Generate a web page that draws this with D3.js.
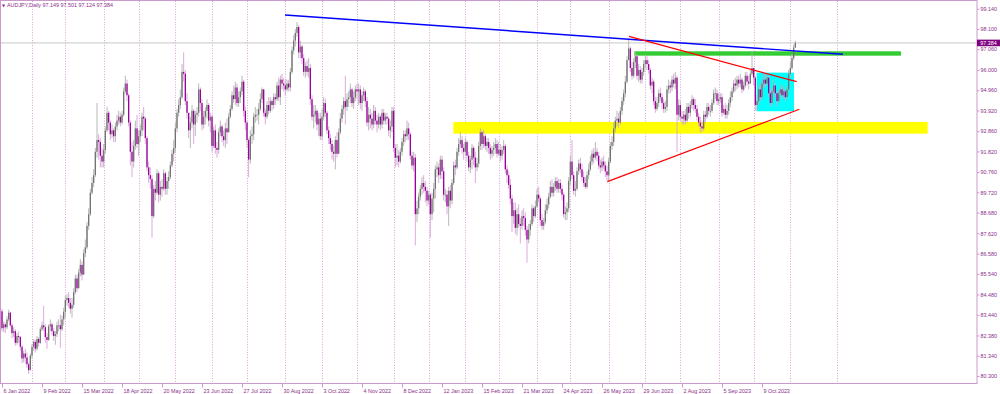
<!DOCTYPE html>
<html>
<head>
<meta charset="utf-8">
<title>AUDJPY Daily</title>
<script src="https://cdn.jsdelivr.net/npm/d3@7/dist/d3.min.js"></script>
<style>
  html, body { margin: 0; padding: 0; background: #fff; }
  svg { display: block; }
  .lbl { font-family: "Liberation Sans", Arial, sans-serif; font-size: 5.4px; fill: #8b2f8b; }
</style>
</head>
<body>
<div id="chart"></div>
<script>
// AUDJPY daily bars (open = previous close)
const firstOpen = 83.62;

const closes = [
  // Jan 2022
  82.75, 82.95, 82.8, 83.2, 83.55, 82.9, 82.5, 82.6, 82.0, 82.35, 82.3, 81.8, 81.2, 81.45, 81.25, 80.9, 80.6, 81.35,
  // Feb
  81.8, 82.05, 81.7, 82.2, 82.0, 82.7, 82.9, 82.8, 82.3, 82.15, 82.85, 82.95, 82.6, 82.35, 82.45, 82.9, 82.9, 82.7, 83.2, 83.6,
  // Mar
  84.2, 84.3, 84.05, 83.75, 83.95, 84.6, 85.3, 84.8, 85.6, 86.0, 85.5, 86.6, 86.9, 88.0, 88.6, 89.7, 90.2, 90.6, 91.8, 92.4, 92.3, 91.6, 91.3,
  // Apr
  91.9, 92.9, 93.8, 93.3, 92.7, 92.9, 92.6, 93.1, 93.4, 93.6, 93.3, 93.7, 94.9, 95.3, 94.7, 93.3, 91.8, 91.3, 92.1, 93.0, 92.2,
  // May
  92.6, 92.9, 93.6, 93.5, 92.5, 91.0, 90.6, 90.4, 88.5, 89.9, 89.7, 90.7, 89.6, 90.0, 89.9, 90.7, 89.9, 90.3, 90.5, 91.1, 91.7, 92.0,
  // Jun
  93.0, 93.8, 94.2, 94.6, 95.9, 95.8, 94.4, 93.8, 92.9, 93.3, 93.9, 93.2, 93.7, 93.8, 95.0, 94.3, 93.2, 93.6, 93.9, 94.2, 93.4, 93.6,
  // Jul
  92.1, 92.9, 92.0, 91.9, 92.8, 93.1, 92.6, 92.4, 93.0, 92.8, 93.6, 94.0, 94.7, 94.5, 95.1, 94.3, 94.6, 94.9, 95.4, 93.9, 93.3,
  // Aug
  92.4, 91.4, 92.6, 92.7, 93.6, 93.7, 93.7, 94.0, 94.5, 95.0, 93.8, 93.6, 94.2, 93.9, 94.4, 94.2, 94.6, 94.5, 95.2, 94.6, 95.5, 95.3, 95.2,
  // Sep
  95.0, 95.3, 95.1, 95.9, 97.0, 97.5, 97.9, 98.2, 96.9, 97.2, 96.6, 95.9, 96.2, 95.9, 96.1, 94.5, 93.6, 93.7, 93.9, 93.2, 93.5, 92.6,
  // Oct
  93.6, 94.3, 93.8, 92.9, 92.5, 92.2, 91.8, 91.7, 92.4, 91.7, 92.8, 93.5, 94.0, 94.4, 94.1, 94.5, 94.6, 95.0, 94.3, 94.6, 95.0,
  // Nov
  94.9, 95.0, 94.3, 94.7, 94.9, 94.4, 93.3, 93.7, 93.5, 93.2, 93.9, 93.4, 93.2, 93.6, 93.2, 93.8, 93.4, 93.6, 93.5, 92.9, 93.1, 93.9,
  // Dec
  92.0, 91.5, 91.6, 91.3, 91.8, 92.3, 92.7, 92.6, 93.0, 92.7, 91.6, 91.1, 91.5, 88.6, 88.9, 89.5, 89.9, 90.2, 90.0, 89.8, 89.3,
  // Jan 2023
  89.6, 88.6, 89.4, 89.9, 90.9, 91.0, 90.6, 91.4, 90.8, 89.6, 89.6, 89.0, 89.8, 89.3, 90.2, 91.1, 91.0, 91.8, 92.2, 92.4, 92.0, 91.8,
  // Feb
  92.3, 91.6, 91.0, 91.4, 92.0, 91.5, 91.0, 91.2, 92.1, 92.8, 92.2, 92.6, 92.1, 92.3, 92.0, 91.7, 91.9, 92.0, 92.2, 91.7,
  // Mar
  91.9, 91.6, 91.9, 92.1, 90.9, 90.6, 90.1, 89.4, 88.5, 88.8, 87.9, 88.6, 88.1, 88.0, 88.5, 88.4, 87.8, 87.3, 87.8, 88.1, 88.9, 88.5, 89.0,
  // Apr
  89.6, 89.4, 88.3, 88.0, 88.2, 88.8, 89.1, 89.5, 90.0, 89.7, 90.0, 90.3, 89.9, 90.2, 89.9, 89.6, 88.6, 88.7, 88.9, 90.3,
  // May
  91.3, 90.6, 89.8, 89.9, 90.8, 91.2, 90.9, 90.5, 90.2, 90.0, 90.6, 90.9, 91.3, 91.7, 91.5, 91.8, 91.6, 91.1, 91.0, 91.3, 91.1, 90.8, 90.6,
  // Jun
  91.3, 92.1, 92.3, 93.0, 93.4, 93.5, 93.3, 93.9, 94.4, 94.8, 95.4, 96.5, 97.1, 96.1, 95.7, 96.4, 96.7, 95.7, 96.0, 95.5, 95.9, 96.3,
  // Jul
  96.5, 96.3, 96.0, 95.2, 95.4, 94.4, 94.0, 94.3, 94.8, 94.6, 94.3, 94.0, 94.1, 95.0, 95.2, 95.1, 95.5, 95.3, 95.6, 93.7, 94.2,
  // Aug
  93.6, 93.5, 93.7, 93.4, 94.1, 93.8, 94.2, 94.5, 94.2, 94.0, 93.6, 93.3, 93.1, 93.0, 93.7, 93.6, 94.1, 93.9, 93.9, 94.3, 94.8, 94.8, 94.4,
  // Sep
  94.5, 94.6, 93.8, 94.0, 93.7, 93.9, 94.3, 94.6, 94.9, 95.3, 95.2, 95.5, 95.3, 95.5, 95.0, 95.2, 95.7, 95.4, 95.3, 95.8, 96.1,
  // Oct - 6 Nov
  95.6, 94.2, 94.4, 95.0, 94.6, 95.3, 95.5, 95.3, 95.6, 94.8, 94.3, 94.9, 95.2, 94.8, 94.4, 94.8, 95.0, 94.7, 94.9, 94.6, 95.0, 95.8, 96.1, 96.6, 97.149, 97.384
];

const highs = [
  83.75, 83.1, 83.05, 83.35, 83.7, 83.6, 83.0, 82.8, 82.7, 82.5, 82.6, 82.35, 81.9, 81.6, 81.7, 81.5, 81.0, 81.45,
  81.95, 82.2, 82.15, 82.35, 82.3, 82.8, 83.1, 83.9, 82.95, 82.5, 82.95, 83.2, 83.05, 82.75, 82.6, 83.1, 83.2, 83.45, 83.4, 83.8,
  84.4, 84.5, 84.6, 84.3, 84.3, 84.8, 85.5, 85.5, 85.8, 86.3, 86.2, 86.8, 87.3, 88.2, 88.9, 89.9, 90.5, 90.9, 92.0, 94.3, 92.7, 92.5, 92.0,
  92.2, 93.1, 94.1, 93.9, 93.4, 93.2, 93.0, 93.3, 93.7, 93.9, 93.8, 93.9, 95.1, 95.7, 95.5, 94.8, 93.4, 92.3, 92.4, 93.4, 93.7,
  92.9, 93.2, 93.8, 94.1, 93.6, 92.6, 91.3, 91.0, 90.6, 90.1, 90.3, 90.9, 90.8, 90.3, 90.4, 90.9, 90.8, 90.5, 90.8, 91.3, 91.9, 92.4,
  93.3, 94.0, 94.5, 95.0, 96.3, 96.9, 96.0, 94.8, 93.8, 93.6, 94.2, 94.0, 93.9, 94.1, 95.3, 95.1, 94.5, 93.9, 94.1, 94.5, 94.3, 93.8,
  93.7, 93.1, 93.2, 92.3, 93.0, 93.4, 93.2, 92.9, 93.3, 93.5, 93.8, 94.2, 94.9, 95.2, 95.4, 95.3, 94.9, 95.1, 95.7, 95.5, 94.1,
  93.4, 92.5, 92.9, 93.1, 93.8, 94.1, 94.0, 94.3, 94.8, 95.1, 95.0, 94.0, 94.4, 94.6, 94.6, 94.5, 94.8, 94.8, 95.4, 95.6, 95.7, 95.8, 95.6,
  95.5, 95.5, 95.5, 96.1, 97.2, 97.8, 98.1, 98.45, 98.3, 97.5, 97.3, 96.8, 96.4, 96.5, 96.6, 96.3, 94.7, 94.2, 94.2, 94.0, 93.8, 93.8,
  94.0, 94.6, 94.5, 93.9, 93.1, 92.7, 92.4, 92.1, 92.6, 92.8, 93.0, 93.8, 94.2, 94.6, 95.7, 94.8, 94.9, 95.3, 95.1, 94.9, 95.2,
  95.3, 95.3, 95.2, 94.9, 95.1, 95.0, 94.6, 94.1, 94.0, 93.8, 94.2, 94.1, 93.7, 93.8, 93.7, 94.0, 94.0, 93.8, 93.8, 93.6, 93.4, 94.1,
  94.1, 92.2, 92.2, 91.9, 92.0, 92.5, 92.9, 92.9, 93.4, 93.3, 92.8, 91.8, 91.8, 91.7, 89.3, 89.7, 90.1, 90.5, 90.6, 90.3, 90.0,
  89.8, 89.7, 89.7, 90.2, 91.1, 91.3, 91.2, 91.6, 91.6, 91.0, 89.9, 89.8, 90.0, 90.1, 90.4, 91.3, 91.4, 92.0, 92.5, 92.8, 92.6, 92.2,
  92.5, 92.4, 91.8, 91.6, 92.2, 92.1, 91.8, 91.5, 92.3, 93.0, 92.9, 92.9, 92.7, 92.5, 92.5, 92.2, 92.1, 92.3, 92.5, 92.4,
  92.3, 92.2, 92.1, 92.4, 92.2, 91.1, 90.8, 90.4, 89.6, 89.2, 89.2, 88.9, 89.1, 88.4, 88.8, 88.9, 88.7, 88.0, 88.1, 88.3, 89.1, 89.0, 89.3,
  89.9, 90.0, 89.5, 88.6, 88.4, 89.1, 89.4, 89.7, 90.3, 90.4, 90.2, 90.5, 90.5, 90.4, 90.4, 90.1, 89.7, 89.0, 89.2, 90.5,
  91.6, 92.4, 90.8, 90.3, 91.0, 91.4, 91.5, 91.2, 90.8, 90.5, 90.8, 91.2, 91.6, 91.9, 92.0, 92.3, 92.0, 91.8, 91.4, 91.5, 91.6, 91.3, 91.1,
  91.5, 92.3, 92.6, 93.3, 93.6, 93.9, 93.8, 94.1, 94.6, 95.0, 95.7, 96.7, 97.6, 97.2, 96.4, 96.6, 96.9, 96.8, 96.3, 96.2, 96.1, 96.5,
  96.8, 96.7, 96.5, 96.1, 95.6, 95.5, 94.6, 94.6, 95.0, 95.1, 94.8, 94.5, 94.4, 95.2, 95.5, 95.4, 95.7, 95.8, 95.9, 95.7, 94.5,
  94.4, 93.9, 93.9, 94.0, 94.3, 94.3, 94.4, 94.7, 94.6, 94.5, 94.2, 93.8, 93.6, 93.4, 93.9, 93.9, 94.3, 94.3, 94.2, 94.5, 95.0, 95.1, 95.0,
  94.8, 94.8, 94.8, 94.2, 94.3, 94.2, 94.5, 94.9, 95.1, 95.5, 95.6, 95.7, 95.7, 95.8, 95.6, 95.4, 95.9, 95.9, 95.7, 96.0, 96.9,
  96.1, 95.7, 94.7, 95.2, 95.3, 95.5, 95.8, 95.8, 95.8, 95.7, 95.0, 95.1, 95.5, 95.3, 94.9, 95.0, 95.3, 95.1, 95.2, 95.0, 95.2, 96.0, 96.4, 96.8, 97.3, 97.501
];

const lows = [
  82.6, 82.55, 82.5, 82.7, 83.1, 82.8, 82.25, 82.3, 81.85, 81.9, 82.0, 81.6, 80.95, 81.0, 80.95, 80.7, 80.4, 80.6,
  81.2, 81.6, 81.5, 81.6, 81.8, 81.95, 82.6, 82.6, 82.0, 81.7, 82.1, 82.6, 82.4, 82.1, 81.9, 82.3, 82.6, 81.75, 82.6, 82.9,
  83.3, 83.9, 83.8, 83.5, 83.3, 83.8, 84.5, 84.6, 84.9, 85.4, 85.2, 85.5, 86.4, 86.8, 87.8, 88.5, 89.6, 90.0, 90.5, 91.5, 91.4, 91.0, 91.0,
  91.0, 91.7, 92.8, 92.9, 92.4, 92.5, 92.3, 92.3, 92.9, 93.2, 93.1, 93.2, 93.6, 94.8, 94.4, 93.1, 91.1, 90.5, 91.0, 91.9, 92.0,
  91.6, 92.3, 92.6, 92.9, 92.2, 90.8, 90.2, 89.9, 87.4, 88.4, 89.3, 89.6, 89.2, 89.3, 89.5, 89.8, 89.6, 89.6, 89.9, 90.4, 91.0, 91.3,
  91.8, 92.8, 93.6, 94.0, 94.5, 95.4, 94.2, 93.5, 92.5, 92.0, 93.0, 92.2, 92.6, 93.3, 93.6, 93.9, 92.9, 93.0, 93.2, 93.5, 93.1, 92.8,
  91.8, 92.0, 91.7, 91.5, 91.7, 92.6, 92.3, 92.1, 92.0, 92.2, 92.8, 93.5, 93.9, 94.3, 94.2, 94.1, 94.1, 94.3, 94.7, 93.6, 92.9,
  92.0, 90.5, 91.2, 92.2, 92.4, 93.3, 93.4, 93.2, 93.9, 94.3, 93.6, 93.2, 93.5, 93.7, 93.8, 93.9, 94.0, 94.2, 94.4, 94.4, 94.2, 95.0, 94.9,
  94.7, 94.9, 94.9, 94.9, 95.8, 96.8, 97.2, 97.7, 96.6, 96.6, 96.3, 95.7, 95.6, 95.7, 95.6, 94.2, 93.4, 93.0, 93.3, 92.9, 92.6, 92.4,
  92.4, 93.4, 93.6, 92.7, 92.2, 91.9, 91.4, 91.3, 90.9, 91.5, 91.7, 92.7, 93.3, 93.7, 93.2, 93.9, 94.1, 94.3, 94.1, 94.0, 94.4,
  94.5, 94.2, 94.0, 93.9, 94.4, 94.1, 93.1, 92.9, 93.0, 92.9, 93.0, 93.2, 92.8, 93.0, 92.9, 93.0, 93.2, 93.2, 93.2, 92.6, 92.5, 92.8,
  91.8, 91.0, 91.1, 91.0, 91.2, 91.6, 92.1, 92.3, 92.4, 92.4, 91.4, 90.9, 90.8, 87.0, 88.2, 88.6, 89.3, 89.6, 89.7, 89.2, 89.0,
  89.1, 87.4, 88.3, 88.7, 89.4, 90.5, 90.2, 90.4, 90.4, 89.3, 89.2, 88.6, 88.0, 88.9, 89.1, 90.1, 90.6, 90.9, 91.6, 92.0, 91.7, 91.4,
  91.6, 91.3, 90.8, 90.7, 90.9, 91.1, 90.2, 90.8, 91.0, 91.9, 91.9, 92.0, 91.9, 91.8, 91.7, 91.4, 91.5, 91.6, 91.7, 91.5,
  91.6, 91.3, 91.4, 91.7, 90.7, 90.2, 89.9, 89.1, 87.7, 88.1, 87.6, 87.5, 87.9, 87.1, 87.8, 88.0, 87.5, 86.1, 87.1, 87.5, 88.0, 88.2, 88.4,
  88.9, 89.2, 88.0, 87.8, 87.8, 88.1, 88.6, 88.9, 89.4, 89.5, 89.5, 89.8, 89.7, 89.7, 89.7, 89.3, 88.4, 88.3, 88.3, 88.7,
  90.1, 90.4, 89.6, 89.5, 89.8, 90.6, 90.7, 90.3, 90.0, 89.9, 89.9, 90.4, 90.8, 91.1, 91.2, 91.4, 91.3, 90.9, 90.7, 90.8, 90.9, 90.5, 90.3,
  90.3, 91.2, 91.9, 92.1, 92.8, 93.1, 93.0, 93.2, 93.7, 94.2, 94.6, 95.3, 96.5, 95.9, 95.5, 95.6, 96.1, 95.5, 95.4, 95.3, 95.3, 95.7,
  96.1, 96.0, 95.8, 95.0, 94.8, 94.2, 93.8, 93.9, 94.1, 94.4, 94.0, 93.8, 93.8, 93.9, 94.8, 94.8, 94.9, 95.1, 95.0, 91.8, 93.4,
  93.4, 93.2, 93.2, 93.2, 93.3, 93.5, 93.6, 94.0, 93.9, 93.8, 93.4, 93.1, 92.8, 92.8, 92.9, 93.3, 93.5, 93.7, 93.6, 93.8, 94.2, 94.5, 94.2,
  94.2, 94.3, 93.6, 93.7, 93.5, 93.5, 93.7, 94.1, 94.4, 94.8, 94.9, 95.0, 95.1, 95.1, 94.8, 94.9, 95.1, 95.2, 95.0, 95.3, 95.7,
  95.2, 93.9, 93.9, 94.2, 94.4, 94.5, 95.1, 95.1, 95.2, 94.6, 94.1, 94.2, 94.8, 94.6, 94.1, 94.3, 94.7, 94.5, 94.6, 94.4, 94.5, 94.9, 95.6, 96.0, 96.5, 97.124
];

// time axis
const startDay = "2022-01-06";
const missingDays = ["2022-12-26"];
const futureMonths = ["2023-12-01"];
const labelEvery = 24;
const dateLabels = [
  "6 Jan 2022", "9 Feb 2022", "15 Mar 2022", "18 Apr 2022", "20 May 2022", "23 Jun 2022", "27 Jul 2022",
  "30 Aug 2022", "3 Oct 2022", "4 Nov 2022", "8 Dec 2022", "12 Jan 2023", "15 Feb 2023", "21 Mar 2023",
  "24 Apr 2023", "26 May 2023", "29 Jun 2023", "2 Aug 2023", "5 Sep 2023", "9 Oct 2023"
];

// price axis
const priceTicks = [99.140, 98.100, 97.060, 96.000, 94.960, 93.920, 92.860, 91.820, 90.760, 89.720,
  88.680, 87.620, 86.580, 85.540, 84.480, 83.440, 82.380, 81.340, 80.300];
const lastPrice = 97.384;
const titleText = "AUDJPY,Daily  97.149 97.501 97.124 97.384";

// drawn objects as [bar index, price]
const blueLine = [[169.8, 98.82], [504.6, 96.80]];
const redUpper = [[376.2, 97.72], [476.8, 95.40]];
const redLower = [[363.2, 90.27], [478.4, 93.98]];
const yellowZone = [[270.8, 92.73], [555.4, 93.33]];
const greenZone = [[379.4, 96.73], [539.4, 96.955]];
const cyanBox = [[452.8, 93.88], [475.2, 95.86]];

// ---------------------------------------------------------------
const width = 1000, height = 394;
const plotRight = 977, plotBottom = 383.5;
const frameColor = "#cc99cc";

const svg = d3.select("#chart").append("svg")
  .attr("width", width)
  .attr("height", height);

// bar index -> x, price -> y
const x = d3.scaleLinear().domain([0, 456]).range([2, 762]);
const y = d3.scaleLinear().domain([80.3, 99.14]).range([376, 8.7]);
const step = x(1) - x(0);

// trading days (weekdays, minus broker holidays)
const parseDay = d3.utcParse("%Y-%m-%d");
const fmtDay = d3.utcFormat("%Y-%m-%d");
const days = [];
for (let d = parseDay(startDay); days.length < closes.length; d = d3.utcDay.offset(d, 1)) {
  const wd = d.getUTCDay();
  if (wd !== 0 && wd !== 6 && !missingDays.includes(fmtDay(d))) days.push(d);
}

svg.append("clipPath").attr("id", "plot-clip")
  .append("rect").attr("x", 1).attr("y", 1).attr("width", plotRight - 1).attr("height", plotBottom - 1);

const plot = svg.append("g").attr("clip-path", "url(#plot-clip)");

// month grid lines (dotted)
const monthX = [];
days.forEach((d, i) => {
  if (i > 0 && d.getUTCMonth() !== days[i - 1].getUTCMonth()) monthX.push(x(i));
});
const lastIdx = closes.length - 1;
futureMonths.forEach(m => {
  monthX.push(x(lastIdx) + d3.utcDay.count(days[lastIdx], parseDay(m)) * step);
});

plot.selectAll(".grid")
  .data(monthX)
  .enter().append("line")
  .attr("class", "grid")
  .attr("x1", d => Math.round(d) + 0.5).attr("x2", d => Math.round(d) + 0.5)
  .attr("y1", 1).attr("y2", plotBottom)
  .attr("stroke", "#d9a3d9")
  .attr("stroke-width", 1)
  .attr("stroke-dasharray", "1,1.6");

// zones behind the bars
const zones = [
  { box: yellowZone, fill: "#ffff00" },
  { box: greenZone, fill: "#33cc33" },
  { box: cyanBox, fill: "#00ffff" }
];
plot.selectAll(".zone")
  .data(zones)
  .enter().append("rect")
  .attr("class", "zone")
  .attr("x", d => x(d.box[0][0]))
  .attr("width", d => x(d.box[1][0]) - x(d.box[0][0]))
  .attr("y", d => y(d.box[1][1]))
  .attr("height", d => y(d.box[0][1]) - y(d.box[1][1]))
  .attr("fill", d => d.fill);

// last price line
plot.append("line")
  .attr("x1", 0).attr("x2", plotRight)
  .attr("y1", y(lastPrice)).attr("y2", y(lastPrice))
  .attr("stroke", "#c8c8c8")
  .attr("stroke-width", 1);

// candles
const bars = closes.map((c, i) => {
  const o = i ? closes[i - 1] : firstOpen;
  return { i, o, c, h: Math.max(highs[i], o, c), l: Math.min(lows[i], o, c), up: c >= o };
});

const candle = plot.selectAll(".bar")
  .data(bars)
  .enter().append("g")
  .attr("class", "bar");

candle.append("line")
  .attr("x1", d => x(d.i)).attr("x2", d => x(d.i))
  .attr("y1", d => y(d.h)).attr("y2", d => y(d.l))
  .attr("stroke", d => d.up ? "#b0b0b0" : "#d9a0d9")
  .attr("stroke-width", 0.9);

candle.append("rect")
  .attr("x", d => x(d.i) - 0.65)
  .attr("width", 1.3)
  .attr("y", d => y(Math.max(d.o, d.c)))
  .attr("height", d => Math.max(0.8, Math.abs(y(d.o) - y(d.c))))
  .attr("fill", d => d.up ? "#727272" : "#990099");

// trend lines on top
const lines = [
  { pts: blueLine, color: "#0000ff", w: 1.4 },
  { pts: redUpper, color: "#ff0000", w: 1.2 },
  { pts: redLower, color: "#ff0000", w: 1.2 }
];
plot.selectAll(".trend")
  .data(lines)
  .enter().append("line")
  .attr("class", "trend")
  .attr("x1", d => x(d.pts[0][0])).attr("y1", d => y(d.pts[0][1]))
  .attr("x2", d => x(d.pts[1][0])).attr("y2", d => y(d.pts[1][1]))
  .attr("stroke", d => d.color)
  .attr("stroke-width", d => d.w);

// frame
svg.append("rect")
  .attr("x", 0.5).attr("y", 0.5)
  .attr("width", plotRight - 0.5).attr("height", plotBottom - 0.5)
  .attr("fill", "none")
  .attr("stroke", frameColor)
  .attr("stroke-width", 1);

// price axis on the right
const yAxis = svg.append("g")
  .attr("transform", `translate(${plotRight},0)`)
  .call(d3.axisRight(y).tickValues(priceTicks).tickFormat(d3.format(".3f")).tickSize(2.5).tickPadding(1));
yAxis.select(".domain").remove();
yAxis.selectAll(".tick line").attr("stroke", frameColor);
yAxis.selectAll(".tick text").attr("class", "lbl").attr("font-size", null).attr("font-family", null);

// date axis at the bottom
const xAxis = svg.append("g")
  .attr("transform", `translate(0,${plotBottom})`)
  .call(d3.axisBottom(x)
    .tickValues(dateLabels.map((_, k) => k * labelEvery))
    .tickFormat((v, k) => dateLabels[k])
    .tickSize(4).tickPadding(1.5));
xAxis.select(".domain").remove();
xAxis.selectAll(".tick line").attr("stroke", frameColor);
xAxis.selectAll(".tick text")
  .attr("class", "lbl").attr("font-size", null).attr("font-family", null)
  .attr("text-anchor", "start").attr("x", 1);

// last price tag
const tagY = y(lastPrice);
svg.append("rect")
  .attr("x", plotRight).attr("y", tagY - 3.3)
  .attr("width", width - plotRight).attr("height", 6.6)
  .attr("fill", "#800080");
svg.append("text")
  .attr("class", "lbl")
  .attr("x", plotRight + 3.2).attr("y", tagY)
  .attr("dy", "0.35em")
  .style("fill", "#ffffff")
  .text(d3.format(".3f")(lastPrice));

// title
svg.append("text")
  .attr("x", 2).attr("y", 7.2)
  .attr("font-family", "DejaVu Sans")
  .attr("font-size", 4)
  .attr("fill", "#8b2f8b")
  .text("\u25BC");
svg.append("text")
  .attr("class", "lbl")
  .attr("x", 7).attr("y", 7.2)
  .text(titleText);
</script>
</body>
</html>
